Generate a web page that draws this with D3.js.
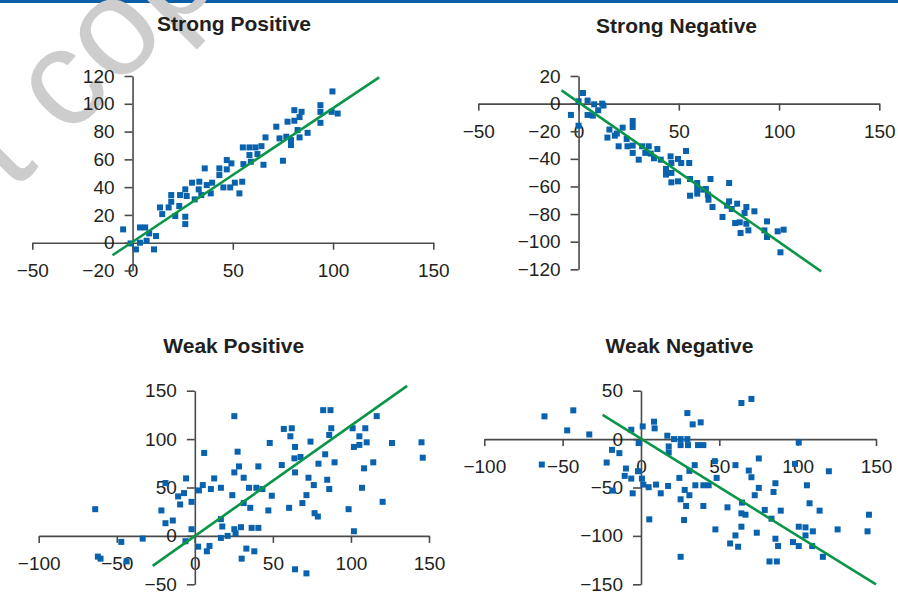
<!DOCTYPE html>
<html><head><meta charset="utf-8">
<script src="https://cdn.jsdelivr.net/npm/d3@7"></script>
<style>body{margin:0;background:#fff}svg{display:block}</style>
</head><body>
<script>
const titles = ["Strong Positive", "Strong Negative", "Weak Positive", "Weak Negative"];

const strongPositive = [[-4.7,9.6],[-1,-0.5],[1.7,-4.8],[3.7,0],[3.7,11],[6.3,11],[8.3,6.7],[7,1.4],[11.7,4.8],[10.7,-4.8],[13.7,25.4],[14.8,20.6],[18,25.4],[19.3,34.3],[19.3,29.5],[21.3,19.2],[23.3,26.4],[23.7,34.3],[26.3,18.7],[26.3,13.4],[26.3,38.4],[27,33.6],[29.7,43.2],[31,31.2],[33,38.4],[33.3,43.9],[34.3,34.3],[36,53.5],[37,41.5],[39,35.5],[39.7,43.2],[43.3,53.5],[43.3,48.7],[45.3,39.8],[47,59.5],[47,52.8],[49.3,57.1],[48.7,39.8],[51,43.2],[53.3,35.5],[54.7,43.9],[55,68.6],[55.3,56.6],[58.3,68.6],[58.3,63.1],[59,58.3],[61.3,68.6],[62.3,63.8],[64.3,69.5],[65.3,56.1],[66.3,75.8],[71.7,83.5],[73.3,75.1],[75,59],[76.7,76.3],[77.3,87.1],[79,73.9],[79,70.3],[80.7,95.4],[80.7,87.8],[82.3,81.1],[83.3,75.8],[83.3,90.4],[84.3,94.2],[87.3,79.1],[93.7,99],[93.7,94.2],[93.7,86.3],[99.3,94.2],[99.7,108.9],[102.3,93]];

const strongNegative = [[-3.8,-8.2],[0,1.7],[2.2,7.7],[0,-16],[4.5,2.2],[4.5,-8.2],[7.1,-8.7],[7.8,-0.5],[9.8,-4.8],[12.4,-1.4],[11.8,0],[14.4,-24.6],[15.4,-18.8],[18.1,-23.2],[19.1,-21.7],[20,-30.9],[22,-17.4],[24,-25.6],[24.4,-30.9],[27,-12.6],[27,-16.9],[27,-30.4],[27,-35.7],[30,-40.6],[31.7,-30.9],[33.3,-35.7],[35,-30.9],[36,-36.2],[37.6,-39.6],[39.3,-32.9],[41,-40.6],[43.6,-47.3],[43.6,-51.4],[45.9,-38.2],[46.3,-43],[46.3,-50.2],[46.3,-57],[49.6,-40.1],[49.6,-56.3],[51.2,-43],[53.6,-34.3],[55.2,-43],[55.6,-54.6],[55.6,-66.7],[59.2,-57.5],[59.2,-61.1],[59.2,-65.2],[62.2,-62.3],[63.5,-61.8],[64.5,-65.9],[64.8,-69.6],[65.8,-54.6],[66.8,-74.9],[71.8,-82.1],[74.1,-73.9],[75.1,-57.5],[75.1,-70.8],[76.4,-76.3],[78.1,-86.5],[79.1,-72.5],[80.4,-86],[80.8,-93.7],[82.8,-79.2],[83.7,-74.9],[83.7,-87],[84.7,-91.8],[87.7,-78],[92.7,-91.8],[94,-85.3],[94,-96.6],[99.3,-92.5],[102.3,-91.3],[100.7,-107.7]];

const weakPositive = [[-63.8,27.6],[-62.1,-21.4],[-60.4,-23.5],[-47.1,-6.2],[-43.7,-26.3],[-33.4,-2.8],[-21.4,26.3],[-18.8,54.6],[-18.8,13.1],[-14.1,15.9],[-10.7,40.8],[-9.4,32.5],[-6.9,44.2],[-6,-5.5],[-5.6,59.4],[-2.1,35.2],[-2.1,6.9],[2.1,-11.1],[2.6,47],[5.1,52.5],[6,85.7],[7.7,-15.9],[9.4,-10.4],[10.3,48.4],[12.4,59.4],[16.7,49.7],[16.7,17.3],[17.6,9.7],[16.7,-2.1],[21,0],[24,42.1],[25.3,123.7],[25.3,65.6],[25.3,6.9],[26.1,2.8],[27.4,87],[28.3,71.8],[29.6,9],[30,-23.5],[31.3,60.1],[31.3,33.9],[33,-13.1],[34.7,49.7],[35.5,29],[36.4,8.3],[38.1,-15.9],[39.4,49.7],[40.7,71.8],[40.7,8.3],[43.3,48.4],[47.1,26.3],[48,96],[49.3,41.5],[55.7,73.2],[57,110.5],[60.4,29],[61.2,102.9],[62.1,111.2],[64.2,91.9],[64.2,65.6],[64.2,-34.5],[63.8,80.1],[67.7,81.5],[68.9,33.9],[71.5,42.1],[71.5,-38.7],[72.8,60.1],[74.1,97.4],[76.2,52.5],[76.7,23.5],[78.8,20],[79.2,74.6],[82.2,129.9],[83.5,84.3],[84.8,58],[86.1,48.4],[86.1,104.3],[86.9,129.9],[87.4,111.2],[89.5,76],[98.5,27.6],[101.1,111.2],[101.9,91.9],[101.9,4.8],[105.4,102.9],[105.4,94],[107.1,49.7],[108.4,69.8],[109.2,111.2],[110.1,96.7],[114.3,76],[116.5,123.7],[120.3,35.2],[126.3,96],[145.2,96.7],[146,80.8]];

const weakNegative = [[-61.6,23.5],[-63.3,-26.3],[-43.2,29.7],[-47.1,9],[-33,4.8],[-21.9,-24.2],[-18.5,-11.1],[-18.1,-53.2],[-13.8,-14.5],[-9.6,-30.4],[-10.4,-38],[-6.2,-40.8],[-6.2,9.7],[-5.3,-56],[-1.9,-33.2],[-1.5,-4.1],[0.6,-40.8],[1.1,13.1],[1.5,-47],[4.9,-49.7],[5.3,-82.9],[8.3,18],[8.7,11.1],[9.6,-47],[12.6,-56],[16.8,3.5],[17.3,-48.4],[17.7,-7.6],[17.7,-13.8],[21.1,0],[24.5,-40.1],[25.3,0],[25.3,-62.2],[25.3,-6.2],[25.3,-121.6],[27.5,-83.6],[27.9,-52.5],[28.8,-69.1],[29.6,26.9],[29.6,0],[30,-6.2],[30.9,-32.8],[30.9,-58],[33,15.2],[34.3,-26.9],[34.7,-47.7],[36.4,-6.2],[38.1,17.3],[39.8,-6.2],[39.8,-69.1],[39.8,-47.7],[43.2,-47.7],[47.1,-22.8],[47.5,-93.3],[48.3,-40.1],[55.2,-70.5],[56.9,-107.8],[60.3,-26.9],[60.3,-99.5],[62,-111.2],[64.1,37.3],[64.5,-65.6],[64.1,-76.7],[64.1,-90.5],[66.7,-78.1],[68.8,-32.5],[70.5,41.5],[70.5,-39.4],[72.6,-58],[73.9,-96.7],[75.2,-20],[75.2,-50.4],[79,-73.2],[82,-126.4],[83.3,-82.2],[84.6,-54.6],[85.8,-45.6],[85.8,-102.9],[86.7,-126.4],[87.5,-110.5],[89.2,-73.9],[97,-106.4],[98.3,-25.6],[100.7,-3.5],[100.7,-90.5],[100.7,-110.5],[105,-91.2],[105,-99.5],[105.9,-47.7],[107.6,-66.3],[109.3,-110.5],[109.7,-95.3],[114,-73.9],[116.1,-121.6],[119.9,-33.2],[125.5,-93.3],[144.6,-95.3],[145.5,-78.1]];

const fitStrongPositive = [[-10,-9],[123,119]];
const fitStrongNegative = [[-8.5,9.6],[121,-121.5]];
const fitWeakPositive = [[-27,-31],[136,155]];
const fitWeakNegative = [[-24.5,25],[150,-150]];

const xTicksStrong = [-50, 0, 50, 100, 150];
const xTicksWeak = [-100, -50, 0, 50, 100, 150];
const yTicksStrongPos = [-20, 0, 20, 40, 60, 80, 100, 120];
const yTicksStrongNeg = [-120, -100, -80, -60, -40, -20, 0, 20];
const yTicksWeakPos = [-50, 0, 50, 100, 150];
const yTicksWeakNeg = [-150, -100, -50, 0, 50];

const W = 898, H = 592;
const svg = d3.select("body").append("svg").attr("width", W).attr("height", H);

// top rule
svg.append("rect").attr("x", 0).attr("y", 0).attr("width", W).attr("height", 3).attr("fill", "#0b5ea8");

// watermark
const wm = svg.append("g").attr("fill", "#cdcdcd")
  .style("font-family", "'Liberation Sans', Arial, sans-serif").style("font-size", "138px");
wm.append("text").attr("transform", "translate(66.9,138.7) rotate(-45)").text("copy");
wm.append("text").attr("transform", "translate(39.7,165.9) rotate(-45)").attr("text-anchor", "end").text("t");

const panels = [
  {title: titles[0], data: strongPositive, fit: fitStrongPositive, xd: [-50,150], yd: [-20,120], xr: [32.3,433.3], yr: [270.5,76], xt: xTicksStrong, yt: yTicksStrongPos, tx: 234, ty: 30.7},
  {title: titles[1], data: strongNegative, fit: fitStrongNegative, xd: [-50,150], yd: [-120,20], xr: [478.3,879.3], yr: [269.3,76], xt: xTicksStrong, yt: yTicksStrongNeg, tx: 676.5, ty: 33.3},
  {title: titles[2], data: weakPositive, fit: fitWeakPositive, xd: [-100,150], yd: [-50,150], xr: [38.7,429], yr: [584.3,390.7], xt: xTicksWeak, yt: yTicksWeakPos, tx: 233.7, ty: 353.3},
  {title: titles[3], data: weakNegative, fit: fitWeakNegative, xd: [-100,150], yd: [-150,50], xr: [484.3,876], yr: [584.3,390.7], xt: xTicksWeak, yt: yTicksWeakNeg, tx: 679.5, ty: 353.3}
];

const fmt = d3.format("");
const S = 6;
panels.forEach(p => {
  const x = d3.scaleLinear().domain(p.xd).range(p.xr);
  const y = d3.scaleLinear().domain(p.yd).range(p.yr);
  const g = svg.append("g");

  g.append("text").attr("x", p.tx).attr("y", p.ty).attr("text-anchor", "middle")
    .style("font-family", "'Liberation Sans', Arial, sans-serif").style("font-weight", "bold")
    .style("font-size", "21px").attr("fill", "#231f20").text(p.title);

  const xa = g.append("g").attr("transform", `translate(0,${y(0)})`)
    .call(d3.axisBottom(x).tickValues(p.xt).tickSize(7).tickSizeOuter(0).tickPadding(13.5).tickFormat(fmt));
  const ya = g.append("g").attr("transform", `translate(${x(0)},0)`)
    .call(d3.axisLeft(y).tickValues(p.yt).tickSize(8).tickSizeOuter(0).tickPadding(10).tickFormat(fmt));
  [xa, ya].forEach(a => {
    a.selectAll("path,line").attr("stroke", "#4a4a4a").attr("stroke-width", 1.6);
    a.selectAll("text").attr("fill", "#231f20")
      .style("font-family", "'Liberation Sans', Arial, sans-serif").style("font-size", "19px");
  });

  g.append("g").selectAll("rect").data(p.data).join("rect")
    .attr("x", d => x(d[0]) - S/2).attr("y", d => y(d[1]) - S/2)
    .attr("width", S).attr("height", S).attr("fill", "#0862ad");

  g.append("path").datum(p.fit)
    .attr("d", d3.line().x(d => x(d[0])).y(d => y(d[1])))
    .attr("stroke", "#0a9648").attr("stroke-width", 2.6).attr("fill", "none");
});
</script>
</body></html>
